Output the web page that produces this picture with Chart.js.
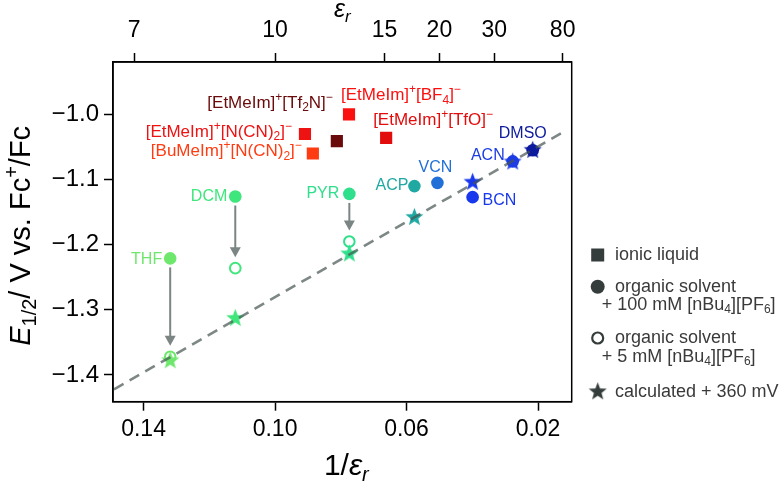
<!DOCTYPE html>
<html lang="en">
<head>
<meta charset="UTF-8">
<title>E1/2 vs 1/epsilon</title>
<style>
  html, body { margin: 0; padding: 0; background: #fff; }
  #wrap { width: 780px; height: 481px; position: relative; }
</style>
</head>
<body>
<div id="wrap"><canvas id="myChart"></canvas></div>
<script src="https://cdn.jsdelivr.net/npm/chart.js@4.4.1/dist/chart.umd.min.js"></script>
<script>
// ionic liquids (squares)
const ilNames = ['[EtMeIm]^{+}[BF_{4}]^{−}', '[EtMeIm]^{+}[N(CN)_{2}]^{−}', '[EtMeIm]^{+}[Tf_{2}N]^{−}', '[EtMeIm]^{+}[TfO]^{−}', '[BuMeIm]^{+}[N(CN)_{2}]^{−}'];
const ilX = [0.0775, 0.0909, 0.0812, 0.0662, 0.0885];
const ilY = [-1.000, -1.030, -1.041, -1.036, -1.060];
const ilColors = ['#fb1010', '#ee1212', '#6b0a0a', '#e20c0c', '#ff3b12'];

// organic solvents
const solvNames = ['THF', 'DCM', 'PYR', 'ACP', 'VCN', 'BCN', 'ACN', 'DMSO'];
const solvX = [0.1319, 0.1121, 0.0774, 0.0576, 0.0506, 0.0399, 0.0277, 0.0216];
const solv100mM = [-1.221, -1.126, -1.122, -1.110, -1.105, -1.127, -1.072, -1.055];
const solv5mM = [-1.372, -1.236, -1.195, null, null, null, null, null];
const solvCalc = [-1.378, -1.313, -1.214, -1.158, null, -1.104, -1.073, -1.055];
const solvColors = ['#6ee86c', '#3fe67c', '#2fdf8c', '#20a8a2', '#2070d8', '#1838ee', '#1c3ce4', '#0c1a9e'];

// dashed fit line
const fitX = [0.149, 0.0123];
const fitY = [-1.422, -1.027];

// axes
const invTicks = [0.14, 0.10, 0.06, 0.02];
const epsTicks = [7, 10, 15, 20, 30, 80];
const yTicks = [-1.0, -1.1, -1.2, -1.3, -1.4];
const X_MIN = 0.00975, X_MAX = 0.1493;
const Y_MIN = -1.441, Y_MAX = -0.9195;

const FONT = '"Liberation Sans", Arial, Helvetica, sans-serif';

function makeStar(color, r) {
  const c = document.createElement('canvas');
  const s = Math.ceil(2 * r + 2);
  c.width = s; c.height = s;
  const g = c.getContext('2d');
  g.beginPath();
  for (let i = 0; i < 10; i++) {
    const rr = i % 2 === 0 ? r : r * 0.42;
    const a = -Math.PI / 2 + i * Math.PI / 5;
    const px = s / 2 + rr * Math.cos(a), py = s / 2 + rr * Math.sin(a);
    if (i === 0) g.moveTo(px, py); else g.lineTo(px, py);
  }
  g.closePath();
  g.fillStyle = color;
  g.fill();
  return c;
}

// tiny rich text: _{sub} ^{sup} *italic*
function parseRich(str) {
  const segs = [];
  const re = /([_^])\{([^}]*)\}|\*([^*]+)\*|([^_^*]+)/g;
  let m;
  while ((m = re.exec(str))) {
    if (m[1]) {
      let t = m[2], it = false;
      if (t.length > 2 && t[0] === '*' && t[t.length - 1] === '*') { t = t.slice(1, -1); it = true; }
      segs.push({ t, mode: m[1] === '_' ? 'sub' : 'sup', it });
    } else if (m[3]) segs.push({ t: m[3], mode: 'n', it: true });
    else segs.push({ t: m[4], mode: 'n', it: false });
  }
  return segs;
}
function richText(ctx, str, x, y, size, align, color) {
  const segs = parseRich(str);
  const fontOf = s => (s.it ? 'italic ' : '') + (s.mode === 'n' ? size : Math.round(size * 0.68)) + 'px ' + FONT;
  let w = 0;
  segs.forEach(s => { ctx.font = fontOf(s); s.w = ctx.measureText(s.t).width; w += s.w; });
  let cx = align === 'right' ? x - w : align === 'center' ? x - w / 2 : x;
  ctx.fillStyle = color;
  ctx.textBaseline = 'middle';
  ctx.textAlign = 'left';
  segs.forEach(s => {
    ctx.font = fontOf(s);
    const dy = s.mode === 'sub' ? size * 0.28 : s.mode === 'sup' ? -size * 0.33 : 0;
    ctx.fillText(s.t, cx, y + dy);
    cx += s.w;
  });
}

// label placement (pixel offsets from the marker)
const ilLabelPos = [['left', -8, -19], ['right', -13, -2], ['right', -4, -38], ['left', -13, -18], ['right', -11, -2]];
const solvLabelPos = [['right', -8, 1], ['right', -8, 0], ['right', -10, 0], ['right', -6, 0], ['center', -2, -15], ['left', 10, 3], ['right', -8, -6], ['center', -10, -17]];

const annotations = {
  id: 'annotations',
  beforeDatasetsDraw(chart) {
    const ctx = chart.ctx, xs = chart.scales.x, ys = chart.scales.y;
    ctx.save();
    ctx.strokeStyle = '#7b8584';
    ctx.fillStyle = '#7b8584';
    ctx.lineWidth = 2;
    solvX.forEach((v, i) => {
      if (solv5mM[i] === null) return;
      const px = xs.getPixelForValue(v);
      const y0 = ys.getPixelForValue(solv100mM[i]) + 9;
      const y1 = ys.getPixelForValue(solv5mM[i]) - 11;
      ctx.beginPath();
      ctx.moveTo(px, y0);
      ctx.lineTo(px, y1 - 8);
      ctx.stroke();
      ctx.beginPath();
      ctx.moveTo(px - 5.5, y1 - 10);
      ctx.lineTo(px + 5.5, y1 - 10);
      ctx.lineTo(px, y1);
      ctx.closePath();
      ctx.fill();
    });
    ctx.restore();
  },
  afterDatasetsDraw(chart) {
    const ctx = chart.ctx, xs = chart.scales.x, ys = chart.scales.y;
    ctx.save();
    ilNames.forEach((n, i) => {
      const p = ilLabelPos[i];
      richText(ctx, n, xs.getPixelForValue(ilX[i]) + p[1], ys.getPixelForValue(ilY[i]) + p[2], 17, p[0], ilColors[i]);
    });
    solvNames.forEach((n, i) => {
      const p = solvLabelPos[i];
      richText(ctx, n, xs.getPixelForValue(solvX[i]) + p[1], ys.getPixelForValue(solv100mM[i]) + p[2], 16, p[0], solvColors[i]);
    });
    ctx.restore();
  },
  afterDraw(chart) {
    const ctx = chart.ctx, a = chart.chartArea;
    ctx.save();
    ctx.strokeStyle = '#000';
    ctx.lineWidth = 1.5;
    ctx.strokeRect(a.left, a.top, a.right - a.left, a.bottom - a.top);

    // axis titles
    const cx = (a.left + a.right) / 2;
    richText(ctx, '1/*ε*_{*r*}', cx + 4, 467, 30, 'center', '#000');
    richText(ctx, '*ε*_{*r*}', cx, 10, 25, 'center', '#000');
    ctx.save();
    ctx.translate(22, (a.top + a.bottom) / 2 + 4);
    ctx.rotate(-Math.PI / 2);
    richText(ctx, '*E*_{1/2}/ V vs. Fc^{+}/Fc', 0, 0, 29, 'center', '#000');
    ctx.restore();

    // legend
    const lc = '#353d3c', tc = '#3a3a3a', lx = 597.7, tx = 615;
    ctx.fillStyle = lc;
    ctx.fillRect(lx - 6.5, 255 - 6.5, 13, 13);
    ctx.beginPath(); ctx.arc(lx, 286.7, 7, 0, Math.PI * 2); ctx.fill();
    ctx.strokeStyle = lc; ctx.lineWidth = 2.2;
    ctx.beginPath(); ctx.arc(lx, 338, 5.5, 0, Math.PI * 2); ctx.stroke();
    const st = makeStar(lc, 9.5);
    ctx.drawImage(st, lx - st.width / 2, 391.7 - st.height / 2);
    richText(ctx, 'ionic liquid', tx, 255, 18, 'left', tc);
    richText(ctx, 'organic solvent', tx, 286.7, 18, 'left', tc);
    richText(ctx, '+ 100 mM [nBu_{4}][PF_{6}]', 601.7, 305, 18, 'left', tc);
    richText(ctx, 'organic solvent', tx, 338, 18, 'left', tc);
    richText(ctx, '+ 5 mM [nBu_{4}][PF_{6}]', 601.7, 356.7, 18, 'left', tc);
    richText(ctx, 'calculated + 360 mV', tx, 391.7, 18, 'left', tc);
    ctx.restore();
  }
};

const pts = (xs, ys) => xs.map((x, i) => ({ x, y: ys[i] }));
const keep = (arr, ys) => arr.filter((_, i) => ys[i] !== null);

const tickFont = { size: 23, family: FONT };
const ctx = document.getElementById('myChart');
const myChart = new Chart(ctx, {
  type: 'scatter',
  data: {
    datasets: [
      {
        label: 'fit', type: 'line', data: pts(fitX, fitY), order: 0,
        borderColor: 'rgba(70,85,82,0.7)', borderWidth: 2.6, borderDash: [11, 7],
        pointRadius: 0, fill: false, tension: 0
      },
      {
        label: 'calculated + 360 mV', order: 1,
        data: keep(pts(solvX, solvCalc), solvCalc),
        pointStyle: keep(solvColors.map(c => makeStar(c, 9.5)), solvCalc),
        pointRadius: 9
      },
      {
        label: '5 mM', order: 2,
        data: keep(pts(solvX, solv5mM), solv5mM),
        pointStyle: 'circle', pointRadius: 5.3, borderWidth: 2,
        backgroundColor: 'rgba(255,255,255,0)',
        borderColor: keep(solvColors, solv5mM)
      },
      {
        label: '100 mM', order: 3,
        data: pts(solvX, solv100mM),
        pointStyle: 'circle', pointRadius: 6.3, borderWidth: 0,
        backgroundColor: solvColors, borderColor: solvColors
      },
      {
        label: 'ionic liquid', order: 4,
        data: pts(ilX, ilY),
        pointStyle: 'rect', pointRadius: 8.6, borderWidth: 0,
        backgroundColor: ilColors, borderColor: ilColors
      }
    ]
  },
  options: {
    responsive: true,
    maintainAspectRatio: false,
    animation: false,
    events: [],
    layout: { padding: { left: 0, right: 208.3, top: 0, bottom: 0 } },
    plugins: { legend: { display: false }, tooltip: { enabled: false } },
    scales: {
      x: {
        type: 'linear', position: 'bottom', reverse: true, min: X_MIN, max: X_MAX,
        afterBuildTicks: s => { s.ticks = invTicks.map(v => ({ value: v })); },
        afterFit: s => { s.height = 79.3; },
        ticks: { callback: v => v.toFixed(2), font: tickFont, color: '#000', padding: 5, maxRotation: 0, autoSkip: false },
        grid: { drawOnChartArea: false, tickLength: 9, tickWidth: 1.5, tickColor: '#000' },
        border: { color: '#000', width: 1.5 }
      },
      x2: {
        type: 'linear', position: 'top', reverse: true, min: X_MIN, max: X_MAX,
        afterBuildTicks: s => { s.ticks = epsTicks.map(e => ({ value: 1 / e })); },
        afterFit: s => { s.height = 62; },
        ticks: { callback: v => String(Math.round(1 / v)), font: tickFont, color: '#000', padding: 9, maxRotation: 0, autoSkip: false },
        grid: { drawOnChartArea: false, tickLength: 9, tickWidth: 1.5, tickColor: '#000' },
        border: { color: '#000', width: 1.5 }
      },
      y: {
        type: 'linear', position: 'left', min: Y_MIN, max: Y_MAX,
        afterBuildTicks: s => { s.ticks = yTicks.map(v => ({ value: v })); },
        afterFit: s => { s.width = 113; },
        ticks: { callback: v => '−' + Math.abs(v).toFixed(1), font: { size: 24, family: FONT }, color: '#000', padding: 5, autoSkip: false },
        grid: { drawOnChartArea: false, tickLength: 9, tickWidth: 1.5, tickColor: '#000' },
        border: { color: '#000', width: 1.5 }
      }
    }
  },
  plugins: [annotations]
});
</script>
</body>
</html>
